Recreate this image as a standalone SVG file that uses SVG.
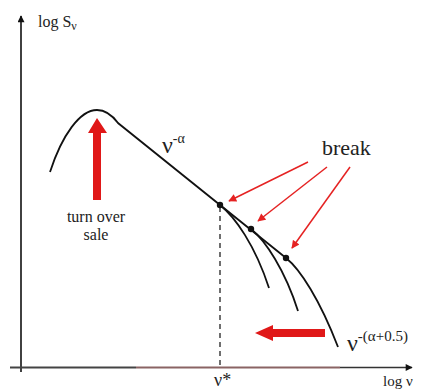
<svg xmlns="http://www.w3.org/2000/svg" width="426" height="392" viewBox="0 0 426 392">
<style>
text{font-family:"Liberation Serif","Times New Roman",serif;fill:#222}
.curve{fill:none;stroke:#111;stroke-width:1.8}
.thin{fill:none;stroke:#e52222;stroke-width:1.5}
.big{fill:#e01818}
</style>
<defs>
<marker id="ah" viewBox="0 0 10 10" refX="9" refY="5" markerWidth="9" markerHeight="8" orient="auto" markerUnits="userSpaceOnUse">
<path d="M0,0 L10,5 L0,10 z" fill="#e52222"/>
</marker>
<marker id="axh" viewBox="0 0 10 10" refX="9" refY="5" markerWidth="8" markerHeight="7" orient="auto" markerUnits="userSpaceOnUse">
<path d="M0,0 L10,5 L0,10 z" fill="#111"/>
</marker>
</defs>
<rect width="426" height="392" fill="#fff"/>
<g id="axes">
<line x1="21" y1="372" x2="21" y2="16" stroke="#111" stroke-width="1.6" marker-end="url(#axh)"/>
<line x1="10" y1="367.5" x2="136" y2="367.5" stroke="#444" stroke-width="1.8"/>
<line x1="136" y1="367.5" x2="340" y2="367.5" stroke="#8a6464" stroke-width="1.8"/>
<line x1="340" y1="367.5" x2="412" y2="367.5" stroke="#333" stroke-width="1.6" marker-end="url(#axh)"/>
<text x="38" y="27" font-size="16">log S<tspan font-size="12" dy="3">ν</tspan></text>
<text x="383" y="386" font-size="15">log ν</text>
</g>
<g id="spectrum">
<path class="curve" d="M50,172 C62,135 80,110 97,110 C106,110 112,115 118,123 L286,258 C300,269 320,300 338,347"/>
<path class="curve" d="M220,205 C235,217 255,245 269,288"/>
<path class="curve" d="M251,229 C265,240 285,270 298,311"/>
<line x1="220" y1="207" x2="220" y2="367" stroke="#222" stroke-width="1.3" stroke-dasharray="5,4"/>
<circle cx="220" cy="205" r="3.2" fill="#111"/>
<circle cx="251" cy="229" r="3.2" fill="#111"/>
<circle cx="286" cy="258" r="3.2" fill="#111"/>
</g>
<g id="label-alpha">
<text x="162" y="153" font-size="24">ν<tspan font-size="14" dy="-10">-α</tspan></text>
</g>
<g id="label-alpha05">
<text x="347" y="351" font-size="24">ν<tspan font-size="15" dy="-10">-(α+0.5)</tspan></text>
</g>
<g id="label-nustar">
<text x="214" y="386" font-size="18">ν*</text>
</g>
<g id="break">
<text x="322" y="155" font-size="22">break</text>
</g>
<g id="connectors">
<line class="thin" x1="308" y1="162" x2="229" y2="201" marker-end="url(#ah)"/>
<line class="thin" x1="327" y1="167" x2="258" y2="221" marker-end="url(#ah)"/>
<line class="thin" x1="350" y1="167" x2="292" y2="248" marker-end="url(#ah)"/>
</g>
<g id="turnover">
<path class="big" d="M93,200 L101,200 L101,133 L107,133 L97,118 L88,133 L93,133 z"/>
<text x="96" y="222" font-size="16" text-anchor="middle">turn over</text>
<text x="96" y="240" font-size="16" text-anchor="middle">sale</text>
</g>
<g id="shift">
<path class="big" d="M325,329 L273,329 L273,325 L255,333 L273,341 L273,337 L325,337 z"/>
</g>
</svg>
